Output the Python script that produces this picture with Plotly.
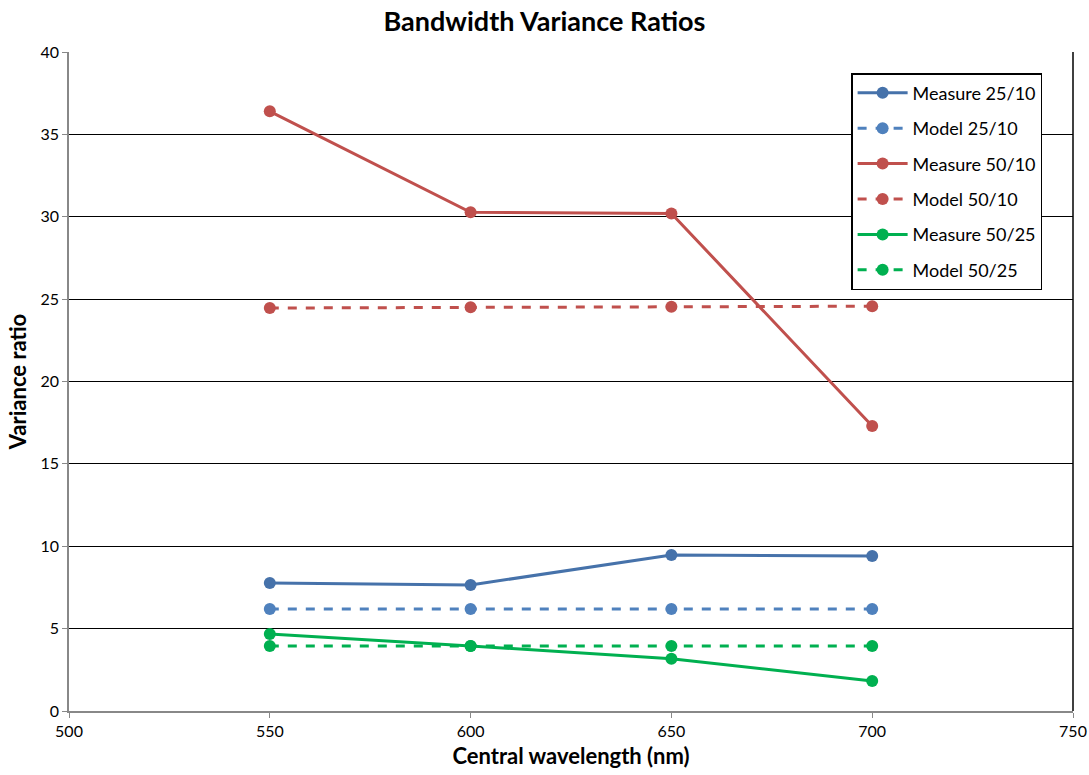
import plotly.graph_objects as go

wavelength = [550, 600, 650, 700]
measure_25_10 = [7.77, 7.65, 9.47, 9.41]
model_25_10 = [6.19, 6.19, 6.19, 6.19]
measure_50_10 = [36.4, 30.27, 30.2, 17.3]
model_50_10 = [24.46, 24.5, 24.54, 24.57]
measure_50_25 = [4.67, 3.95, 3.17, 1.82]
model_50_25 = [3.95, 3.95, 3.95, 3.95]

series = [
    ("Measure 25/10", measure_25_10, "#4672AA", "solid"),
    ("Model 25/10", model_25_10, "#4F81BD", "dash"),
    ("Measure 50/10", measure_50_10, "#C0504D", "solid"),
    ("Model 50/10", model_50_10, "#C0504D", "dash"),
    ("Measure 50/25", measure_50_25, "#00B050", "solid"),
    ("Model 50/25", model_50_25, "#00B050", "dash"),
]

font_family = "Lato, 'Open Sans', sans-serif"

fig = go.Figure()
for name, vals, color, dash in series:
    fig.add_trace(go.Scatter(
        x=wavelength, y=vals, name=name, mode="lines+markers",
        legendgroup=name,
        line=dict(color=color, width=3, dash=dash),
        marker=dict(color=color, size=12),
    ))

fig.update_layout(
    width=1089, height=775,
    paper_bgcolor="white", plot_bgcolor="white",
    margin=dict(l=69, r=16, t=52, b=64, autoexpand=False),
    font=dict(family=font_family, size=16, color="black"),
    title=dict(text="<b>Bandwidth Variance Ratios</b>", x=0.5, xanchor="center",
               y=0.984, yanchor="top", font=dict(size=27, family=font_family),
               automargin=False),
    showlegend=True,
    legend=dict(x=0.779, y=0.968, xanchor="left", yanchor="top",
                bordercolor="black", borderwidth=1.5, bgcolor="white",
                font=dict(size=18, family=font_family),
                tracegroupgap=9, itemwidth=50),
    xaxis=dict(range=[500, 750], dtick=50, showgrid=False, automargin=False,
               showline=True, linecolor="#888888", linewidth=1.5,
               ticks="outside", tickcolor="#888888", ticklen=5,
               tickfont=dict(size=16), mirror=False, zeroline=False,
               title=dict(text="<b>Central wavelength (nm)</b>", font=dict(size=22), standoff=10)),
    yaxis=dict(range=[0, 40], dtick=5, showgrid=True, gridcolor="black", gridwidth=1,
               automargin=False,
               showline=True, linecolor="#888888", linewidth=1.5,
               ticks="outside", tickcolor="#888888", ticklen=5,
               tickfont=dict(size=16), zeroline=False,
               title=dict(text="<b>Variance ratio</b>", font=dict(size=22), standoff=8)),
)

# right border of plot area
fig.add_shape(type="line", xref="paper", yref="paper", x0=1, x1=1, y0=0, y1=1,
              line=dict(color="black", width=1.5))

fig.write_html("out.html",
               config={"displayModeBar": False},
               post_script="document.body.style.margin='0px';document.body.style.overflow='hidden';")
